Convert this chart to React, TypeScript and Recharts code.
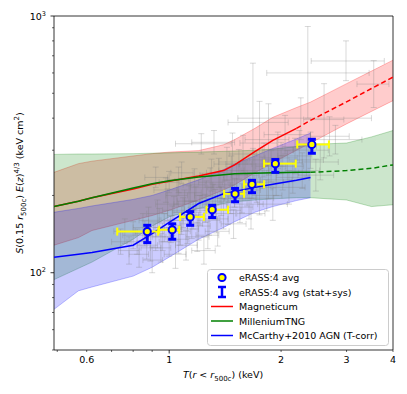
import React from 'react';
import { ComposedChart, Area, Line, Scatter, ErrorBar, XAxis, YAxis, ReferenceArea } from 'recharts';

// simulation model grid (keV)
const gridT = [0.49, 0.57, 0.62, 0.8, 0.9, 1.0, 1.2, 1.4, 1.5, 1.7, 1.9, 2.2, 2.4, 3.0, 3.5, 4.0];

// Magneticum median + scatter band
const magMed = [181, 190, 196, 212, 221, 227, 238, 250, 263, 296, 328, 365, 392, 463, 522, 578];
const magLo = [128, 137, 146, 160, 167, 175, 192, 210, 220, 245, 268, 300, 320, 380, 425, 468];
const magHi = [246, 266, 272, 285, 291, 295, 299, 315, 330, 365, 403, 440, 462, 545, 610, 673];
const magSolidEnd = 2.2;

// MilleniumTNG
const mtngMed = [181, 190, 196, 214, 222, 228, 236, 241, 243, 244, 245, 246, 246, 250, 255, 263];
const mtngLo = [94, 104, 110, 135, 152, 165, 178, 186, 189, 192, 194, 196, 196, 192, 181, 184];
const mtngHi = [289, 290, 290, 291, 292, 293, 295, 297, 298, 300, 303, 310, 316, 320, 338, 358];
const mtngSolidEnd = 2.4;

// McCarthy+2010 AGN (T-corr), stops at 2.4 keV
const mcMed = [115, 118, 120, 128, 142, 157, 186, 203, 207, 215, 221, 229, 235, null, null, null];
const mcLo = [72, 85, 88, 97, 105, 115, 135, 150, 158, 172, 181, 191, 196, null, null, null];
const mcHi = [172, 178, 182, 193, 200, 210, 230, 252, 265, 285, 305, 332, 350, null, null, null];

// eRASS:4 stacked averages
const avgT = [0.873, 1.019, 1.139, 1.305, 1.504, 1.67, 1.93, 2.42];
const avgS = [144.6, 147, 165, 176, 203, 221, 266, 316];
const avgTlo = [0.725, 0.94, 1.07, 1.26, 1.405, 1.59, 1.8, 2.21];
const avgThi = [0.934, 1.064, 1.24, 1.44, 1.59, 1.8, 2.19, 2.69];
const avgSlo = [131, 135, 153, 164, 189, 205, 246, 292];
const avgShi = [153, 155, 173, 183, 213, 229, 276, 331];

// individual clusters (grey)
const greyT = [
  0.74, 0.78, 0.8, 0.83, 0.85, 0.87, 0.88, 0.9, 0.92, 0.93,
  0.95, 0.97, 0.99, 1.0, 1.02, 1.04, 1.05, 1.07, 1.09, 1.11,
  1.13, 1.15, 1.17, 1.19, 1.21, 1.22, 1.24, 1.26, 1.28, 1.3,
  1.33, 1.35, 1.37, 1.4, 1.43, 1.46, 1.49, 1.52, 1.55, 1.58,
  1.62, 1.66, 1.7, 1.75, 1.8, 1.85, 1.9, 1.96, 2.02, 2.1,
  2.18, 2.28, 2.4, 2.55, 2.7, 1.68, 2.36, 2.99, 3.55, 2.61,
  2.26, 2.8, 2.05, 0.92, 1.0, 1.08, 1.85, 1.75, 1.48, 1.32,
  0.76, 0.82, 0.86, 0.89, 0.94, 0.96, 1.01, 1.03, 1.06, 1.08,
  1.1, 1.12, 1.14, 1.16, 1.18, 1.2, 1.23, 1.25, 1.27, 1.29,
  1.31, 1.34, 1.36, 1.38, 1.41, 1.44, 1.47, 1.5, 1.54, 1.57,
  1.6, 1.64, 1.68, 1.72, 1.78, 1.83, 1.88, 1.94, 2.0, 2.08,
  2.15, 2.24, 2.34, 2.48, 0.98, 1.06,
];
const greyS = [
  132, 122, 140, 118, 150, 128, 160, 112, 138, 170,
  125, 150, 185, 132, 160, 118, 200, 145, 172, 128,
  190, 155, 220, 138, 175, 318, 122, 200, 160, 240,
  185, 145, 215, 170, 265, 195, 155, 230, 180, 290,
  210, 170, 250, 195, 275, 225, 185, 300, 245, 215,
  285, 250, 300, 270, 340, 385, 600, 668, 543, 395,
  400, 330, 345, 235, 225, 245, 330, 320, 270, 322,
  145, 132, 142, 125, 158, 138, 148, 175, 135, 160,
  185, 148, 205, 168, 190, 152, 215, 178, 140, 225,
  195, 162, 245, 190, 220, 175, 250, 205, 265, 195,
  240, 185, 265, 215, 245, 200, 260, 230, 280, 260,
  235, 310, 275, 240, 210, 230,
];
const greyTlo = [
  0.7, 0.73, 0.75, 0.78, 0.8, 0.82, 0.83, 0.85, 0.86, 0.87,
  0.89, 0.91, 0.92, 0.94, 0.95, 0.97, 0.98, 1.0, 1.02, 1.04,
  1.05, 1.07, 1.09, 1.11, 1.13, 1.04, 1.15, 1.17, 1.19, 1.21,
  1.23, 1.25, 1.27, 1.3, 1.32, 1.35, 1.38, 1.4, 1.43, 1.45,
  1.49, 1.52, 1.56, 1.6, 1.64, 1.69, 1.73, 1.78, 1.83, 1.9,
  1.96, 2.05, 2.15, 2.28, 2.4, 1.44, 1.83, 2.41, 3.2, 2.3,
  1.53, 2.35, 1.8, 0.86, 0.94, 1.01, 1.6, 1.55, 1.36, 1.15,
  0.71, 0.77, 0.81, 0.84, 0.88, 0.9, 0.95, 0.96, 0.99, 1.01,
  1.03, 1.05, 1.06, 1.08, 1.1, 1.12, 1.14, 1.16, 1.18, 1.2,
  1.22, 1.24, 1.26, 1.28, 1.31, 1.33, 1.36, 1.39, 1.42, 1.44,
  1.47, 1.5, 1.54, 1.57, 1.62, 1.67, 1.71, 1.76, 1.81, 1.88,
  1.94, 2.02, 2.1, 2.22, 0.91, 0.99,
];
const greyThi = [
  0.79, 0.83, 0.86, 0.88, 0.91, 0.93, 0.94, 0.96, 0.98, 0.99,
  1.01, 1.04, 1.06, 1.07, 1.09, 1.11, 1.12, 1.14, 1.17, 1.19,
  1.21, 1.23, 1.25, 1.28, 1.3, 1.47, 1.33, 1.35, 1.37, 1.4,
  1.43, 1.45, 1.48, 1.51, 1.55, 1.58, 1.61, 1.65, 1.68, 1.72,
  1.76, 1.81, 1.86, 1.91, 1.97, 2.03, 2.08, 2.16, 2.23, 2.32,
  2.42, 2.54, 2.68, 2.85, 3.05, 2.09, 3.45, 3.79, 3.9, 2.95,
  3.5, 3.3, 2.4, 0.99, 1.07, 1.16, 2.1, 1.95, 1.62, 1.5,
  0.81, 0.87, 0.92, 0.95, 1.0, 1.03, 1.08, 1.1, 1.13, 1.16,
  1.18, 1.2, 1.22, 1.24, 1.27, 1.29, 1.32, 1.34, 1.36, 1.39,
  1.41, 1.44, 1.47, 1.49, 1.52, 1.56, 1.59, 1.62, 1.67, 1.71,
  1.74, 1.79, 1.84, 1.88, 1.95, 2.01, 2.06, 2.14, 2.21, 2.3,
  2.38, 2.49, 2.6, 2.77, 1.05, 1.13,
];
const greySlo = [
  118, 108, 124, 105, 133, 113, 140, 100, 122, 150,
  110, 132, 160, 116, 140, 104, 172, 128, 150, 112,
  165, 136, 190, 121, 153, 290, 108, 175, 140, 208,
  162, 127, 188, 148, 228, 170, 136, 200, 157, 245,
  182, 148, 215, 168, 236, 194, 160, 255, 210, 185,
  243, 213, 255, 230, 285, 226, 400, 560, 440, 280,
  330, 290, 290, 215, 205, 222, 240, 220, 210, 290,
  130, 118, 127, 111, 140, 122, 131, 154, 119, 141,
  163, 130, 180, 148, 167, 134, 189, 157, 124, 198,
  172, 143, 215, 167, 193, 154, 219, 180, 232, 171,
  210, 162, 230, 188, 213, 174, 226, 200, 243, 226,
  204, 268, 238, 208, 188, 205,
];
const greyShi = [
  148, 138, 158, 133, 170, 145, 180, 126, 156, 192,
  142, 170, 212, 150, 182, 134, 232, 164, 196, 146,
  218, 176, 254, 157, 200, 348, 138, 228, 182, 277,
  211, 165, 246, 195, 308, 224, 176, 264, 206, 343,
  242, 195, 290, 226, 320, 261, 214, 353, 286, 250,
  334, 293, 353, 317, 405, 655, 910, 800, 670, 545,
  480, 375, 410, 258, 248, 270, 455, 465, 350, 358,
  162, 148, 159, 140, 178, 156, 167, 198, 153, 181,
  210, 168, 233, 190, 216, 172, 244, 202, 158, 256,
  221, 183, 279, 216, 250, 199, 285, 233, 302, 222,
  274, 211, 305, 245, 282, 230, 299, 264, 322, 299,
  270, 358, 318, 277, 234, 258,
];

const xTicks = [0.5, 0.6, 0.7, 0.8, 0.9, 1, 2, 3, 4];
const xLabels = [0.6, 1, 2, 3, 4];
const yTicks = [50, 60, 70, 80, 90, 100, 200, 300, 400, 500, 600, 700, 800, 900, 1000];

const FONT = 'DejaVu Sans';

const rows = gridT.map((T, i) => ({
  T,
  mag: [magLo[i], magHi[i]],
  mtng: [mtngLo[i], mtngHi[i]],
  mc: mcLo[i] == null ? null : [mcLo[i], mcHi[i]],
  magSolid: T <= magSolidEnd ? magMed[i] : null,
  magDash: T >= magSolidEnd ? magMed[i] : null,
  mtngSolid: T <= mtngSolidEnd ? mtngMed[i] : null,
  mtngDash: T >= mtngSolidEnd ? mtngMed[i] : null,
  mcLine: mcMed[i],
}));

const greyRows = greyT.map((T, i) => ({
  T,
  S: greyS[i],
  ex: [T - greyTlo[i], greyThi[i] - T],
  ey: [greyS[i] - greySlo[i], greyShi[i] - greyS[i]],
}));

const avgRows = avgT.map((T, i) => ({
  T,
  S: avgS[i],
  ex: [T - avgTlo[i], avgThi[i] - T],
  ey: [avgS[i] - avgSlo[i], avgShi[i] - avgS[i]],
}));

const XTick = (props: any) => {
  const { x, y, payload } = props;
  const v = payload.value;
  const major = v === 1;
  return (
    <g>
      <line x1={x} x2={x} y1={y} y2={y + (major ? 3.5 : 2)} stroke="#000" strokeWidth={major ? 0.8 : 0.6} />
      {xLabels.includes(v) && (
        <text x={x} y={y + 13} textAnchor="middle" fontSize={9.5} fontFamily={FONT} fill="#000">
          {String(v)}
        </text>
      )}
    </g>
  );
};

const YTick = (props: any) => {
  const { x, y, payload } = props;
  const v = payload.value;
  const major = v === 100 || v === 1000;
  return (
    <g>
      <line x1={x} x2={x - (major ? 3.5 : 2)} y1={y} y2={y} stroke="#000" strokeWidth={major ? 0.8 : 0.6} />
      {major && (
        <text x={x - 8} y={y + 3.5} textAnchor="end" fontSize={9.5} fontFamily={FONT} fill="#000">
          10<tspan dy={-4} fontSize={6.5}>{v === 100 ? '2' : '3'}</tspan>
        </text>
      )}
    </g>
  );
};

const XTitle = () => (
  <text x={223} y={378} textAnchor="middle" fontSize={9.5} fontFamily={FONT} fill="#000">
    <tspan fontStyle="italic">T</tspan>(<tspan fontStyle="italic">r</tspan> &lt; <tspan fontStyle="italic">r</tspan>
    <tspan dy={2.5} fontSize={7}>500c</tspan>
    <tspan dy={-2.5}>) (keV)</tspan>
  </text>
);

const YTitle = () => (
  <text transform="translate(23,183) rotate(-90)" textAnchor="middle" fontSize={9.5} fontFamily={FONT} fill="#000">
    <tspan fontStyle="italic">S</tspan>(0.15 <tspan fontStyle="italic">r</tspan>
    <tspan dy={2.5} fontSize={7}>500c</tspan>
    <tspan dy={-2.5}>) </tspan>
    <tspan fontStyle="italic">E</tspan>(<tspan fontStyle="italic">z</tspan>)
    <tspan dy={-4} fontSize={7}>4/3</tspan>
    <tspan dy={4}> (keV cm</tspan>
    <tspan dy={-4} fontSize={7}>2</tspan>
    <tspan dy={4}>)</tspan>
  </text>
);

const noShape = () => <g />;
const avgDot = (p: any) => <circle cx={p.cx} cy={p.cy} r={3.6} fill="#ffff00" stroke="#0000ff" strokeWidth={2} />;

const legendItems = [
  { kind: 'dot', label: 'eRASS:4 avg' },
  { kind: 'bar', label: 'eRASS:4 avg (stat+sys)' },
  { kind: 'line', color: '#ff0000', label: 'Magneticum' },
  { kind: 'line', color: '#008000', label: 'MilleniumTNG' },
  { kind: 'line', color: '#0000ff', label: 'McCarthy+2010 AGN (T-corr)' },
];

const ChartLegend = () => (
  <svg width={182} height={77} style={{ position: 'absolute', left: 207, top: 269 }}>
    <rect x={0.5} y={0.5} width={181} height={76} rx={3} fill="#fff" fillOpacity={0.8} stroke="#cccccc" />
    {legendItems.map((it, i) => {
      const cy = 8.5 + i * 14.5;
      return (
        <g key={it.label}>
          {it.kind === 'dot' && <circle cx={15} cy={cy} r={3.6} fill="#ffff00" stroke="#0000ff" strokeWidth={2} />}
          {it.kind === 'bar' && (
            <g stroke="#0000ff" strokeWidth={2.5}>
              <line x1={15} x2={15} y1={cy - 5} y2={cy + 5} />
              <line x1={11} x2={19} y1={cy - 5} y2={cy - 5} />
              <line x1={11} x2={19} y1={cy + 5} y2={cy + 5} />
            </g>
          )}
          {it.kind === 'line' && <line x1={4} x2={26} y1={cy} y2={cy} stroke={it.color} strokeWidth={1.5} />}
          <text x={32} y={cy + 3.5} fontSize={9.5} fontFamily={FONT} fill="#000">
            {it.label}
          </text>
        </g>
      );
    })}
  </svg>
);

export default function App() {
  return (
    <div style={{ position: 'relative', width: 407, height: 394 }}>
      <style>{`body{margin:0}`}</style>
      <ComposedChart width={407} height={394} data={rows} margin={{ top: 16, right: 14, bottom: 0, left: 0 }}>
        <XAxis
          dataKey="T"
          type="number"
          scale="log"
          domain={[0.49, 4]}
          allowDataOverflow
          ticks={xTicks}
          interval={0}
          tick={<XTick />}
          tickLine={false}
          tickSize={0}
          tickMargin={0}
          axisLine={false}
          height={44}
          label={{ content: () => <XTitle /> }}
        />
        <YAxis
          type="number"
          scale="log"
          domain={[50, 1000]}
          allowDataOverflow
          ticks={yTicks}
          interval={0}
          tick={<YTick />}
          tickLine={false}
          tickSize={0}
          tickMargin={0}
          axisLine={false}
          width={54}
          label={{ content: () => <YTitle /> }}
        />
        <Area type="linear" dataKey="mag" stroke="#ff0000" strokeOpacity={0.25} fill="#ff0000" fillOpacity={0.2} isAnimationActive={false} dot={false} activeDot={false} />
        <Area type="linear" dataKey="mtng" stroke="#008000" strokeOpacity={0.25} fill="#008000" fillOpacity={0.2} isAnimationActive={false} dot={false} activeDot={false} />
        <Area type="linear" dataKey="mc" stroke="#0000ff" strokeOpacity={0.25} fill="#0000ff" fillOpacity={0.2} isAnimationActive={false} dot={false} activeDot={false} />

        <Scatter data={greyRows} dataKey="S" shape={noShape} isAnimationActive={false}>
          <ErrorBar dataKey="ex" direction="x" width={3} stroke="#808080" strokeOpacity={0.3} strokeWidth={1} />
          <ErrorBar dataKey="ey" direction="y" width={3} stroke="#808080" strokeOpacity={0.3} strokeWidth={1} />
        </Scatter>

        <Line type="linear" dataKey="magSolid" stroke="#ff0000" strokeWidth={1.5} dot={false} activeDot={false} isAnimationActive={false} />
        <Line type="linear" dataKey="magDash" stroke="#ff0000" strokeWidth={1.5} strokeDasharray="5 3" dot={false} activeDot={false} isAnimationActive={false} />
        <Line type="linear" dataKey="mtngSolid" stroke="#008000" strokeWidth={1.5} dot={false} activeDot={false} isAnimationActive={false} />
        <Line type="linear" dataKey="mtngDash" stroke="#008000" strokeWidth={1.5} strokeDasharray="5 3" dot={false} activeDot={false} isAnimationActive={false} />
        <Line type="linear" dataKey="mcLine" stroke="#0000ff" strokeWidth={1.5} dot={false} activeDot={false} isAnimationActive={false} />

        <Scatter data={avgRows} dataKey="S" shape={noShape} isAnimationActive={false}>
          <ErrorBar dataKey="ex" direction="x" width={4} stroke="#ffff00" strokeWidth={2} />
        </Scatter>
        <Scatter data={avgRows} dataKey="S" shape={noShape} isAnimationActive={false}>
          <ErrorBar dataKey="ey" direction="y" width={4} stroke="#0000ff" strokeWidth={3} />
        </Scatter>
        <Scatter data={avgRows} dataKey="S" shape={avgDot} isAnimationActive={false} />

        <ReferenceArea x1={0.49} x2={4} y1={50} y2={1000} fill="none" stroke="#000" strokeWidth={0.8} ifOverflow="visible" />
      </ComposedChart>
      <ChartLegend />
    </div>
  );
}
